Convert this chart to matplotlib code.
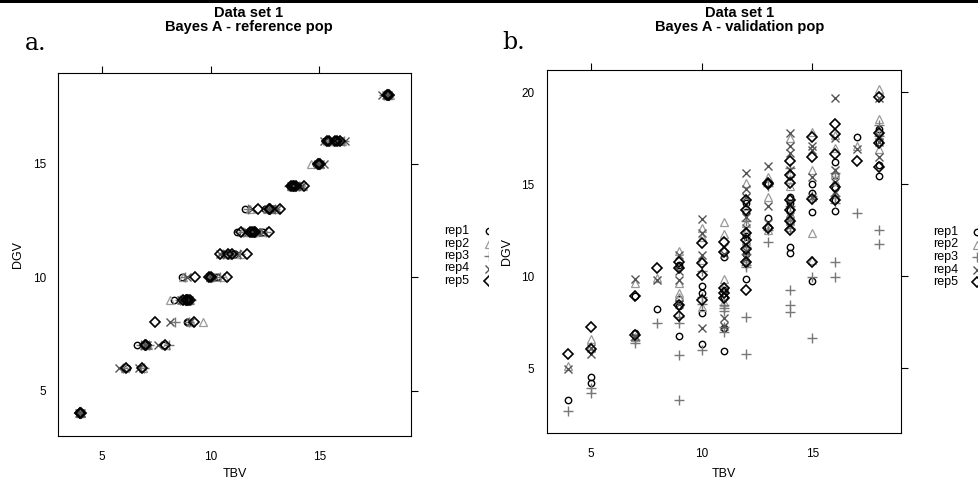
import matplotlib
matplotlib.use("Agg")
import matplotlib.pyplot as plt
import numpy as np

plt.rcParams['font.family'] = ['Liberation Sans', 'DejaVu Sans']

reps = ["rep1", "rep2", "rep3", "rep4", "rep5"]

# ---------------- reference population (panel a) ----------------
ref_dgv = [4, 4, 6, 6, 7, 7, 7, 8, 8, 9, 9, 9, 10, 10, 10, 11, 11, 11,
           12, 12, 12, 12, 13, 13, 13, 14, 14, 14, 15, 15, 16, 16, 16, 18, 18,
           4, 9, 9, 10, 11, 12, 12, 13, 14, 14, 15, 16, 16, 18]
ref_tbv_rep1 = [4.00, 3.97, 6.15, 6.85, 6.60, 7.05, 7.85, 8.90, 8.95, 8.30, 8.85, 9.00,
                8.67, 9.95, 10.30, 10.60, 10.97, 11.10, 11.20, 11.75, 12.00, 12.40,
                11.60, 12.50, 12.85, 13.65, 13.85, 14.10, 14.85, 15.00, 15.25, 15.70,
                15.95, 18.10, 18.20,
                4.01, 8.95, 8.70, 10.00, 10.75, 11.90, 12.10, 12.70, 13.80, 13.90,
                14.95, 15.40, 15.80, 18.15]
ref_tbv_rep2 = [4.02, 4.00, 6.05, 6.90, 6.95, 7.10, 7.95, 9.67, 9.10, 8.13, 8.90, 9.05,
                8.75, 10.00, 10.60, 10.50, 10.85, 11.40, 11.45, 11.80, 12.05, 12.30,
                11.80, 12.60, 13.00, 13.70, 13.90, 14.25, 14.60, 15.05, 15.35, 15.75,
                16.05, 18.15, 18.25,
                3.98, 8.80, 8.75, 9.95, 10.90, 11.95, 11.70, 12.80, 13.75, 14.00,
                15.00, 15.50, 15.65, 18.10]
ref_tbv_rep3 = [3.98, 4.03, 5.95, 6.95, 6.80, 7.15, 8.10, 8.36, 9.00, 8.60, 8.80, 9.10,
                8.80, 9.90, 10.44, 10.55, 10.90, 11.35, 11.50, 11.85, 11.95, 12.55,
                11.70, 12.70, 12.95, 13.60, 13.80, 14.05, 14.90, 15.00, 15.30, 15.65,
                16.15, 18.00, 18.20,
                4.00, 8.95, 8.90, 10.05, 10.85, 12.10, 12.00, 12.75, 13.90, 13.85,
                14.90, 15.45, 15.85, 18.20]
ref_tbv_rep4 = [4.00, 4.02, 5.78, 6.70, 7.00, 7.05, 7.60, 8.13, 9.05, 8.70, 8.95, 8.85,
                8.90, 10.05, 10.20, 10.45, 11.00, 11.20, 11.60, 11.70, 12.10, 12.40,
                11.90, 12.80, 13.05, 13.75, 13.95, 14.20, 14.95, 15.20, 15.20, 15.80,
                16.20, 17.90, 18.15,
                3.96, 9.00, 8.65, 9.98, 10.95, 11.85, 12.20, 12.65, 13.70, 13.95,
                15.05, 15.55, 15.90, 18.05]
ref_tbv_rep5 = [4.00, 3.99, 6.10, 6.85, 7.03, 7.00, 7.90, 7.44, 9.24, 8.75, 8.90, 9.05,
                9.28, 10.00, 10.75, 10.44, 10.80, 11.67, 11.40, 11.80, 12.00, 12.67,
                12.20, 12.74, 13.20, 13.70, 13.85, 14.30, 14.95, 15.05, 15.35, 15.74,
                15.97, 18.10, 18.20,
                4.02, 8.85, 8.95, 9.93, 11.00, 12.05, 11.90, 12.70, 13.80, 13.95,
                14.98, 15.45, 15.80, 18.15]

# ---------------- validation population (panel b) ----------------
val_tbv = [4, 5, 5, 7, 7, 8, 9, 9, 9, 9, 10, 10, 10, 10, 11, 11, 11, 11, 11,
           12, 12, 12, 12, 12, 12, 12, 13, 13, 13, 14, 14, 14, 14, 14, 14, 14,
           15, 15, 15, 15, 16, 16, 16, 16, 16, 17, 18, 18, 18, 18]
val_dgv_rep1 = [3.28, 4.55, 4.19, 8.93, 6.90, 8.20, 10.60, 8.75, 8.39, 6.76,
                9.47, 9.07, 8.00, 6.32, 11.03, 9.25, 8.90, 7.17, 5.96,
                14.00, 13.50, 12.20, 11.80, 11.20, 10.70, 9.84, 15.00, 13.15, 12.70,
                14.33, 13.97, 13.60, 13.20, 12.90, 11.61, 11.29,
                15.00, 14.50, 13.50, 9.76, 16.23, 14.15, 13.57, 15.50, 14.80,
                17.55, 16.05, 15.45, 17.30, 18.00]
val_dgv_rep2 = [5.10, 6.58, 6.20, 9.62, 6.70, 9.90, 11.40, 9.66, 9.07, 8.86,
                12.60, 12.15, 10.90, 8.35, 12.97, 12.30, 9.84, 9.50, 8.60,
                15.05, 13.80, 12.88, 12.40, 11.90, 11.00, 10.90, 15.40, 14.33, 12.50,
                17.50, 15.60, 15.30, 14.90, 13.40, 13.00, 12.70,
                17.86, 15.78, 12.34, 10.90, 16.96, 17.70, 15.60, 15.20, 14.50,
                17.10, 20.16, 18.53, 16.90, 17.90]
val_dgv_rep3 = [2.68, 3.91, 3.64, 6.54, 6.36, 7.45, 7.81, 7.45, 5.72, 3.28,
                10.30, 8.90, 8.50, 6.00, 8.44, 8.26, 8.10, 7.26, 7.00,
                13.00, 11.60, 11.20, 10.50, 10.60, 7.77, 5.78, 14.90, 12.50, 11.88,
                15.87, 13.80, 13.00, 12.60, 9.26, 8.44, 8.08,
                14.36, 14.20, 9.98, 6.63, 15.60, 14.36, 10.80, 9.98, 14.00,
                13.42, 18.22, 12.52, 11.74, 17.60]
val_dgv_rep4 = [4.95, 5.78, 6.10, 9.84, 6.75, 9.80, 11.16, 10.30, 9.80, 8.50,
                13.10, 12.34, 11.16, 7.17, 11.60, 11.20, 9.10, 7.71, 7.30,
                15.63, 14.73, 14.33, 13.24, 12.60, 11.40, 11.00, 16.00, 13.82, 12.90,
                17.80, 17.08, 16.68, 15.78, 14.00, 13.30, 12.80,
                17.08, 16.86, 15.38, 14.30, 19.67, 17.50, 15.14, 15.80, 14.60,
                16.90, 19.67, 17.63, 16.50, 17.30]
val_dgv_rep5 = [5.76, 7.26, 6.03, 8.93, 6.80, 10.43, 10.80, 10.43, 8.44, 7.85,
                11.83, 10.70, 10.07, 8.71, 11.88, 11.34, 9.35, 9.07, 8.80,
                14.15, 13.60, 12.34, 11.97, 11.50, 10.80, 9.26, 15.05, 15.00, 12.60,
                16.29, 15.50, 15.05, 14.15, 13.60, 13.00, 12.52,
                17.59, 16.50, 14.18, 10.80, 18.26, 17.74, 16.65, 14.84, 14.15,
                16.29, 19.76, 17.77, 17.23, 15.96]

ref_tbv = [ref_tbv_rep1, ref_tbv_rep2, ref_tbv_rep3, ref_tbv_rep4, ref_tbv_rep5]
val_dgv = [val_dgv_rep1, val_dgv_rep2, val_dgv_rep3, val_dgv_rep4, val_dgv_rep5]

x_ticks = [5, 10, 15]
ya_ticks = [5, 10, 15]
yb_ticks = [5, 10, 15, 20]

styles = [
    dict(marker='o', ms=4.6, mfc='none', mec='#000000', mew=1.0),
    dict(marker='^', ms=5.8, mfc='none', mec='#9a9a9a', mew=0.9),
    dict(marker='+', ms=7.2, mfc='none', mec='#787878', mew=1.0),
    dict(marker='x', ms=5.8, mfc='none', mec='#555555', mew=1.0),
    dict(marker='D', ms=5.2, mfc='none', mec='#000000', mew=1.2),
]

W, H = 979, 484
fig = plt.figure(figsize=(W / 100, H / 100), dpi=100)

def px_axes(l, r, t, b):
    return fig.add_axes([l / W, 1 - b / H, (r - l) / W, (b - t) / H])

axa = px_axes(58.3, 411, 72.7, 436)
axb = px_axes(546.7, 900.7, 70, 433.3)

for ax in (axa, axb):
    for s in ax.spines.values():
        s.set_linewidth(0.8)
    ax.tick_params(direction='out', width=0.8, length=5, labelsize=8.5,
                   top=True, right=True, bottom=False, left=False,
                   labeltop=False, labelright=False)
    ax.tick_params(axis='x', pad=5.5)
    ax.tick_params(axis='y', pad=4)

for i in range(5):
    axa.plot(ref_tbv[i], ref_dgv, ls='none', **styles[i])
    axb.plot(val_tbv, val_dgv[i], ls='none', **styles[i])

axa.set_xlim(2.99, 19.22)
axa.set_ylim(3.0, 19.0)
axa.set_xticks(x_ticks)
axa.set_yticks(ya_ticks)
axb.set_xlim(3.02, 18.98)
axb.set_ylim(1.47, 21.21)
axb.set_xticks(x_ticks)
axb.set_yticks(yb_ticks)

for ax, ylab_x, xlab_y, (l, r, t, b) in (
        (axa, 18, 474, (58.3, 411, 72.7, 436)),
        (axb, 507, 474, (546.7, 900.7, 70, 433.3))):
    ax.set_xlabel("TBV", fontsize=9, va='center')
    ax.set_ylabel("DGV", fontsize=9, va='center')
    ax.xaxis.set_label_coords(0.5, -(xlab_y - b) / (b - t))
    ax.yaxis.set_label_coords((ylab_x - l) / (r - l), 0.5)

# titles
fig.text(249 / W, 1 - 13 / H, "Data set 1", ha='center', va='center', fontsize=10.5, fontweight='bold')
fig.text(249 / W, 1 - 27 / H, "Bayes A - reference pop", ha='center', va='center', fontsize=10.5, fontweight='bold')
fig.text(740 / W, 1 - 13 / H, "Data set 1", ha='center', va='center', fontsize=10.5, fontweight='bold')
fig.text(740 / W, 1 - 27 / H, "Bayes A - validation pop", ha='center', va='center', fontsize=10.5, fontweight='bold')
fig.text(25 / W, 1 - 50 / H, "a.", ha='left', va='baseline', fontsize=17, family='DejaVu Serif')
fig.text(502 / W, 1 - 49 / H, "b.", ha='left', va='baseline', fontsize=17, family='DejaVu Serif')

# black bar at top
fig.patches.append(plt.Rectangle((0, 1 - 3 / H), 1, 3 / H, transform=fig.transFigure,
                                 facecolor='black', edgecolor='none'))

# legends (clipped like the reference crop)
def overlay(l, r):
    ov = fig.add_axes([l / W, 0, (r - l) / W, 1])
    ov.set_xlim(l, r)
    ov.set_ylim(H, 0)
    ov.axis('off')
    ov.patch.set_alpha(0)
    return ov

ova = overlay(0, 488)
ovb = overlay(488, W)
for ov, tx, mx, y0 in ((ova, 444, 489, 231), (ovb, 933, 977, 232)):
    for i, name in enumerate(reps):
        y = y0 + i * 12.5
        ov.text(tx, y, name, fontsize=9, ha='left', va='center', clip_on=True)
        ov.plot([mx], [y], ls='none', clip_on=True, **styles[i])

fig.savefig("out.png", dpi=100)
